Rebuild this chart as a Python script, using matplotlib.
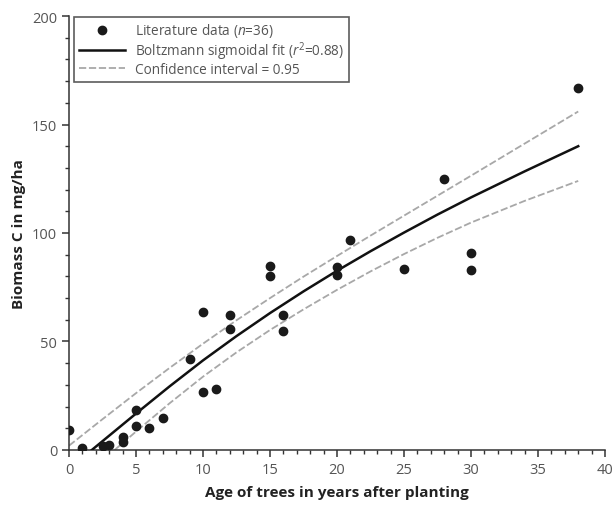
import matplotlib
matplotlib.use('Agg')
import matplotlib.pyplot as plt
from matplotlib.ticker import MultipleLocator

plt.rcParams['font.family'] = ['Open Sans', 'DejaVu Sans']
plt.rcParams['mathtext.fontset'] = 'custom'
plt.rcParams['mathtext.rm'] = 'Open Sans'
plt.rcParams['mathtext.it'] = 'Open Sans:italic'

# literature data (age, biomass C)
age = [0, 1, 2.5, 3, 4, 4, 5, 5, 6, 7, 9, 10, 10, 11, 12, 12,
       15, 15, 16, 16, 20, 20, 21, 25, 28, 30, 30, 38]
biomass = [9.2, 1, 2, 2.5, 6, 3.5, 18.4, 11, 10, 14.7, 42, 63.5, 26.7, 28, 62, 55.8,
           85, 80, 62, 55, 84.3, 80.6, 97, 83.4, 125, 91, 83, 167]

# Boltzmann fit
fit_x = [1.7, 5, 7.5, 10, 12.5, 15, 17.5, 20, 22.5, 25, 27.5, 30, 34, 38]
fit_y = [0, 16.8, 29.3, 41.3, 52.5, 63.1, 73.1, 82.6, 91.6, 100.2, 108.5, 116.4, 128.4, 140]

# confidence band
upper_x = [0, 2.5, 5, 7.5, 10, 12.5, 15, 17.5, 20, 22.5, 25, 27.5, 30, 34, 38]
upper_y = [2, 14.2, 26.2, 37.8, 49, 59.8, 70, 79.9, 89.4, 98.8, 108, 117.2, 126.4, 141.2, 156]
lower_x = [3.4, 5, 7.5, 10, 12.5, 15, 17.5, 20, 22.5, 25, 27.5, 30, 34, 38]
lower_y = [0, 8.5, 21.5, 33.8, 45, 55.3, 64.8, 73.8, 82.3, 90.3, 97.8, 104.8, 114.8, 124]

fig = plt.figure(figsize=(6.13, 5.06), dpi=100)
ax = fig.add_axes([0.1126, 0.1087, 0.8744, 0.8577])

ax.plot(upper_x, upper_y, color='#a8a8a8', lw=1.3, dashes=(4, 1.5), zorder=2)
ax.plot(lower_x, lower_y, color='#a8a8a8', lw=1.3, dashes=(4, 1.5), zorder=2,
        label='Confidence interval = 0.95')
ax.plot(fit_x, fit_y, color='#111111', lw=1.8, zorder=3,
        label='Boltzmann sigmoidal fit ($r^2$=0.88)')
ax.plot(age, biomass, 'o', color='#1a1a1a', ms=6, zorder=4,
        label='Literature data ($n$=36)')

ax.set_xlim(0, 40)
ax.set_ylim(0, 200)
ax.xaxis.set_major_locator(MultipleLocator(5))
ax.xaxis.set_minor_locator(MultipleLocator(1))
ax.yaxis.set_major_locator(MultipleLocator(50))
ax.yaxis.set_minor_locator(MultipleLocator(10))

for s in ['top', 'right']:
    ax.spines[s].set_visible(False)
for s in ['left', 'bottom']:
    ax.spines[s].set_color('#333333')
    ax.spines[s].set_linewidth(1.1)
ax.tick_params(which='major', direction='out', length=5, width=1.1,
               color='#333333', labelsize=10.5, labelcolor='#555555')
ax.tick_params(which='minor', direction='out', length=3, width=1,
               color='#333333')

ax.set_xlabel('Age of trees in years after planting', fontsize=11,
              fontweight='bold', color='#222222', labelpad=6)
ax.set_ylabel('Biomass C in mg/ha', fontsize=11, fontweight='bold',
              color='#222222', labelpad=4)

h, l = ax.get_legend_handles_labels()
leg = ax.legend(h[::-1], l[::-1], loc='upper left', bbox_to_anchor=(0.005, 1.005),
                fontsize=9.8, frameon=True, fancybox=False, borderaxespad=0.2,
                handlelength=3.4, labelspacing=0.0, borderpad=0.35,
                handletextpad=0.7)
leg.get_frame().set_edgecolor('#333333')
leg.get_frame().set_linewidth(1.2)
for t in leg.get_texts():
    t.set_color('#555555')

fig.savefig('out.png', dpi=100)
